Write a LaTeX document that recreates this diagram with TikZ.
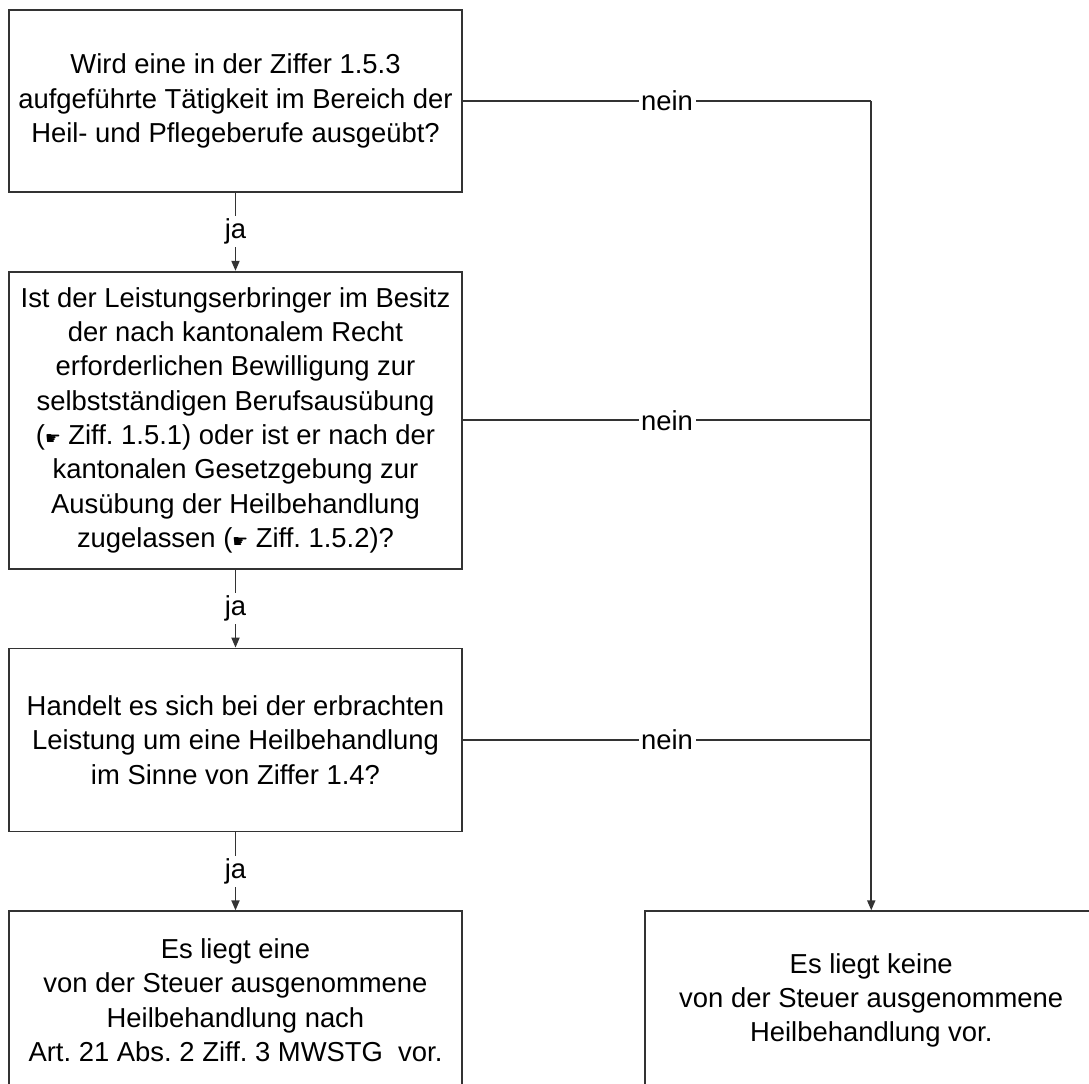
\documentclass[tikz,border=0pt]{standalone}
\usepackage{fontspec}
\setmainfont{Liberation Sans}
\newfontfamily\handfont{DejaVu Sans}
\usetikzlibrary{arrows.meta, positioning}
\newcommand{\zeiger}{{\handfont\fontsize{10}{10}\selectfont ☛}}
\frenchspacing

\begin{document}
\begin{tikzpicture}[
  frage/.style={
    rectangle, draw=black!80, line width=1pt, minimum width=9.06cm, inner sep=0pt,
    font=\fontsize{15.6}{19.5}\selectfont, align=center,
  },
  marke/.style={fill=white, inner sep=1.5pt, font=\fontsize{15.6}{19.5}\selectfont},
  arrow/.style={-{Triangle[length=0.2cm, width=0.16cm]}, line width=1pt, draw=black!80},
  linie/.style={line width=1pt, draw=black!80},
]
\useasboundingbox (0,0) rectangle (21.78,-21.68);
\node[frage, minimum height=3.64cm] (taetigkeit) at (4.71,-2.02) {Wird eine in der Ziffer 1.5.3\\aufgeführte Tätigkeit im Bereich der\\Heil- und Pflegeberufe ausgeübt?};
\node[frage, minimum height=5.94cm, below=1.56cm of taetigkeit] (bewilligung) {Ist der Leistungserbringer im Besitz\\der nach kantonalem Recht\\erforderlichen Bewilligung zur\\selbstständigen Berufsausübung\\(\zeiger{} Ziff. 1.5.1) oder ist er nach der\\kantonalen Gesetzgebung zur\\Ausübung der Heilbehandlung\\zugelassen (\zeiger{} Ziff. 1.5.2)?};
\node[frage, minimum height=3.66cm, below=1.56cm of bewilligung] (heilbeh) {Handelt es sich bei der erbrachten\\Leistung um eine Heilbehandlung\\im Sinne von Ziffer 1.4?};
\node[frage, minimum height=3.56cm, below=1.56cm of heilbeh] (ausgenommen) {Es liegt eine\\von der Steuer ausgenommene\\Heilbehandlung nach\\Art. 21 Abs. 2 Ziff. 3 MWSTG\ \ vor.};
\node[frage, minimum height=3.56cm, right=3.62cm of ausgenommen] (steuerbar) {Es liegt keine\\von der Steuer ausgenommene\\Heilbehandlung vor.};
% ja-Zweige
\draw[arrow] (taetigkeit) -- node[marke]{ja} (bewilligung);
\draw[arrow] (bewilligung) -- node[marke]{ja} (heilbeh);
\draw[arrow] (heilbeh) -- node[marke]{ja} (ausgenommen);
% nein-Zweige
\coordinate (n1) at (taetigkeit.east -| steuerbar.north);
\coordinate (n2) at (bewilligung.east -| steuerbar.north);
\coordinate (n3) at (heilbeh.east -| steuerbar.north);
\draw[linie] (taetigkeit.east) -- node[marke]{nein} (n1);
\draw[linie] (bewilligung.east) -- node[marke]{nein} (n2);
\draw[linie] (heilbeh.east) -- node[marke]{nein} (n3);
\draw[arrow] (n1) -- (steuerbar.north);
\end{tikzpicture}
\end{document}
